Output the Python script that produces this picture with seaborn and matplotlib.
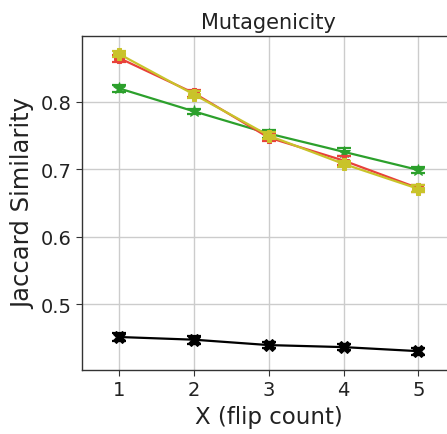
import numpy as np
import pandas as pd
import seaborn as sns
import matplotlib
matplotlib.use("Agg")
import matplotlib.pyplot as plt

flips = [1, 2, 3, 4, 5]

# series
black_vals = [0.451, 0.447, 0.439, 0.436, 0.430]
black_err = [0.006, 0.006, 0.005, 0.005, 0.005]
green_vals = [0.820, 0.786, 0.753, 0.726, 0.699]
green_err = [0.005, 0.004, 0.006, 0.006, 0.005]
red_vals = [0.865, 0.813, 0.747, 0.713, 0.672]
red_err = [0.005, 0.005, 0.005, 0.006, 0.005]
yellow_vals = [0.871, 0.811, 0.750, 0.708, 0.671]
yellow_err = [0.005, 0.005, 0.005, 0.005, 0.005]

sns.set_style("whitegrid")
plt.rcParams['font.family'] = ['DejaVu Sans']

fig = plt.figure(figsize=(4.47, 4.35), dpi=100)
ax = fig.add_axes([0.1834, 0.1471, 0.836, 0.768])

series = [
    (black_vals, black_err, "black", "X", 8),
    (green_vals, green_err, "#2ca02c", "*", 9),
    (red_vals, red_err, "#e8413a", "P", 7),
    (yellow_vals, yellow_err, "#c9c32a", "P", 8),
]
for vals, err, col, mk, ms in series:
    df = pd.DataFrame({"x": flips, "y": vals})
    sns.lineplot(data=df, x="x", y="y", ax=ax, color=col, marker=mk,
                 markersize=ms, markeredgecolor=col, linewidth=1.6)
    ax.errorbar(flips, vals, yerr=err, fmt="none", ecolor=col,
                capsize=5, elinewidth=1.6, capthick=1.6)

ax.set_xlim(0.5, 5.5)
ax.set_ylim(0.402, 0.898)
ax.set_xticks(flips)
ax.set_yticks([0.5, 0.6, 0.7, 0.8])
ax.grid(True, color="#cccccc", linewidth=1.0)
for s in ax.spines.values():
    s.set_color("#333333")
    s.set_linewidth(1.0)
ax.tick_params(axis="both", labelsize=14, length=4, color="#333333",
               left=True, bottom=True, colors="#222222")
ax.set_title("Mutagenicity", fontsize=15, color="#222222")
ax.set_xlabel("X (flip count)", fontsize=16.5, color="#222222")
ax.set_ylabel("Jaccard Similarity", fontsize=17.5, color="#222222")

fig.savefig("out.png", dpi=100)
